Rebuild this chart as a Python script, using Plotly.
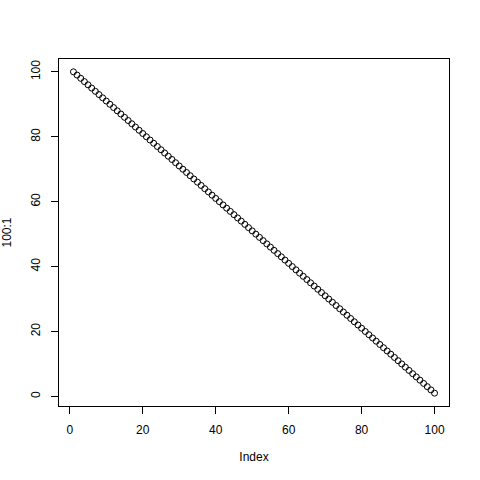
import plotly.graph_objs as go

# plot(100:1) -- values against their index
index = list(range(1, 101))
values = list(range(100, 0, -1))
tick_vals = [0, 20, 40, 60, 80, 100]

fig = go.Figure()
fig.add_trace(
    go.Scatter(
        x=index, y=values, mode="markers",
        marker=dict(symbol="circle-open", size=6, color="black", line=dict(width=1, color="black")),
        showlegend=False
    )
)

axis_style = dict(
    range=[-2.96, 103.96],
    tickvals=tick_vals,
    ticks="outside", ticklen=7, tickwidth=1, tickcolor="black",
    showline=True, linecolor="black", linewidth=1, mirror=True,
    showgrid=False, zeroline=False,
    tickfont=dict(family="Liberation Sans, Arial", size=12, color="black"),
    title_font=dict(family="Liberation Sans, Arial", size=12, color="black"),
    automargin=False,
)

fig.update_layout(
    width=480, height=480,
    margin=dict(l=59, r=31, t=59, b=74),
    plot_bgcolor="white",
    paper_bgcolor="white",
    xaxis=dict(axis_style, title_text="Index", ticklabelstandoff=6, title_standoff=16),
    yaxis=dict(axis_style, title_text="100:1", tickangle=-90, ticklabelstandoff=6, title_standoff=23),
)

# drop the default 8px page margin so the figure fills the window exactly
fig.write_html("out.html", config={"displayModeBar": False},
               post_script="document.body.style.margin='0';")
